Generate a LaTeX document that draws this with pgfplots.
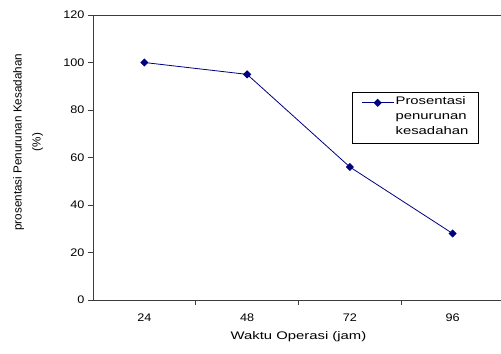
\documentclass[border=0pt]{standalone}
\usepackage{fontspec}
\setmainfont{Liberation Sans}[FakeStretch=1.35]
\newfontfamily\numfont{Liberation Sans}[FakeStretch=1.15]
\newfontfamily\vfont{Liberation Sans}
\usepackage{pgfplots}
\pgfplotsset{compat=1.18}
\definecolor{navy}{RGB}{0,0,128}
\definecolor{axisgray}{RGB}{60,60,60}
\begin{document}
\begin{tikzpicture}
\begin{axis}[
  name=ax,
  scale only axis, width=411bp, height=285bp,
  xmin=-0.5, xmax=3.5, ymin=0, ymax=120,
  ytick={0,20,...,120},
  xtick={0.5,1.5,2.5}, xticklabels={},
  extra x ticks={0,1,2,3}, extra x tick labels={24,48,72,96},
  extra x tick style={major tick length=0pt},
  tick align=outside, major tick length=5bp, tick pos=left,
  axis line style={axisgray, line width=0.8bp},
  tick style={axisgray, line width=0.8bp},
  /pgf/number format/assume math mode=true,
  font=\fontsize{11bp}{13bp}\selectfont,
  ticklabel style={font=\numfont\fontsize{11bp}{13bp}\selectfont},
  xticklabel style={yshift=-10bp},
  xlabel={Waktu Operasi (jam)},
  xlabel style={at={(axis description cs:0.5,-0.128)}, anchor=center},
  ylabel={prosentasi Penurunan Kesadahan\\(\%)},
  ylabel style={at={(axis description cs:-0.158,0.554)}, anchor=center, align=center, font=\vfont\fontsize{11.7bp}{19bp}\selectfont},
  legend cell align=left,
  legend style={at={(axis description cs:0.630,0.730)}, anchor=north west,
    draw=black, line width=0.8bp, inner xsep=9bp, inner ysep=3bp,
    row sep=0bp,
    nodes={inner xsep=1.5bp, inner ysep=0bp, text height=9bp, text depth=6bp},
    font=\fontsize{11bp}{15bp}\selectfont},
  legend image code/.code={\draw[mark repeat=2,mark phase=2,#1] plot coordinates {(0bp,0bp) (16bp,0bp) (32bp,0bp)};},
]
\addplot[navy, line width=0.8bp, mark=square*, mark size=2.5bp,
  mark options={rotate=45, fill=navy, draw=navy}]
  coordinates {(0,100) (1,95) (2,56) (3,28)};
\addlegendentry{Prosentasi}
\addlegendimage{empty legend}
\addlegendentry{penurunan}
\addlegendimage{empty legend}
\addlegendentry{kesadahan}
\end{axis}
\pgfresetboundingbox
\path[use as bounding box] ([shift={(-93bp,-54bp)}]ax.south west) rectangle ++(501bp,354bp);
\end{tikzpicture}
\end{document}
